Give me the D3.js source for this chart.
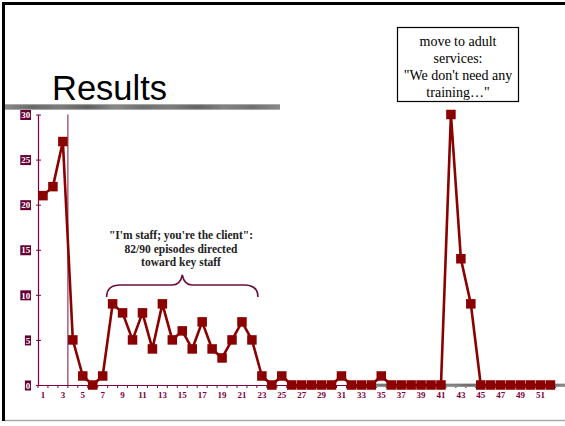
<!DOCTYPE html>
<html>
<head>
<meta charset="utf-8">
<script src="https://cdn.jsdelivr.net/npm/d3@7/dist/d3.min.js"></script>
<style>
  html, body { margin: 0; padding: 0; background: #fff; }
  svg { display: block; }
</style>
</head>
<body>
<svg id="chart" width="565" height="426"></svg>
<script>
// ---- data ----
const sessions = d3.range(1, 53);
const episodes = [21, 22, 27, 5, 1, 0, 1, 9, 8, 5, 8, 4, 9, 5, 6, 4, 7, 4, 3, 5, 7, 5, 1, 0, 1,
                  0, 0, 0, 0, 0, 1, 0, 0, 0, 1, 0, 0, 0, 0, 0, 0, 30, 14, 9, 0, 0, 0, 0, 0, 0, 0, 0];
const yTicks = [0, 5, 10, 15, 20, 25, 30];
const xTickLabels = sessions.filter(d => d % 2 === 1);
const titleText = "Results";
const braceText = ["\"I'm staff; you're the client\":", "82/90 episodes directed", "toward key staff"];
const boxText = ["move to adult", "services:", "\"We don't need any", "training\u2026\""];
const phaseChangeAfter = 3;   // phase line between session 3 and 4
const braceRange = [8, 22];   // sessions covered by the brace

// ---- layout ----
const svg = d3.select("#chart");
const W = 565, H = 426;
const plot = { left: 38, right: 555.4, top: 114.5, bottom: 385 };
const lineColor = "#8b0000";
const axisColor = "#800040";

const x = d3.scaleBand().domain(sessions).range([plot.left, plot.right]).paddingInner(0).paddingOuter(0);
const y = d3.scaleLinear().domain([0, 30]).range([plot.bottom, plot.top]);
const cx = d => x(d) + x.bandwidth() / 2;

// slide frame
svg.append("rect").attr("x", 0).attr("y", 0).attr("width", W).attr("height", H).attr("fill", "#fff");
svg.append("line").attr("x1", 3.5).attr("x2", 3.5).attr("y1", 2).attr("y2", 421)
  .attr("stroke", "#000").attr("stroke-width", 3);
svg.append("line").attr("x1", 2).attr("x2", W).attr("y1", 3.5).attr("y2", 3.5)
  .attr("stroke", "#000").attr("stroke-width", 3);
svg.append("line").attr("x1", 5).attr("x2", W).attr("y1", 420.5).attr("y2", 420.5)
  .attr("stroke", "#aaa").attr("stroke-width", 1.5);

// gray textured bars
const defs = svg.append("defs");
const grad = defs.append("linearGradient").attr("id", "gbar").attr("x1", "0").attr("x2", "1").attr("y1", "0").attr("y2", "0");
const stops = ["#9a9a9a", "#707070", "#888", "#666", "#999", "#777", "#8a8a8a", "#6a6a6a", "#929292", "#7a7a7a", "#9c9c9c"];
stops.forEach((c, i) => grad.append("stop").attr("offset", (i / (stops.length - 1))).attr("stop-color", c));
const gradV = defs.append("linearGradient").attr("id", "gbarv").attr("x1", "0").attr("x2", "0").attr("y1", "0").attr("y2", "1");
gradV.append("stop").attr("offset", 0).attr("stop-color", "#ddd").attr("stop-opacity", 0.8);
gradV.append("stop").attr("offset", 0.5).attr("stop-color", "#000").attr("stop-opacity", 0);
gradV.append("stop").attr("offset", 1).attr("stop-color", "#ddd").attr("stop-opacity", 0.8);

svg.append("rect").attr("x", 5).attr("y", 104).attr("width", 275).attr("height", 6).attr("fill", "url(#gbar)");
svg.append("rect").attr("x", 5).attr("y", 104).attr("width", 275).attr("height", 6).attr("fill", "url(#gbarv)");

// title
svg.append("text").attr("x", 52).attr("y", 100).text(titleText)
  .attr("font-family", "Arial, 'Liberation Sans', sans-serif").attr("font-size", 34.5).attr("fill", "#000");

// phase change line
svg.append("line")
  .attr("x1", x(phaseChangeAfter + 1)).attr("x2", x(phaseChangeAfter + 1))
  .attr("y1", y(30)).attr("y2", y(0))
  .attr("stroke", "#a8607e").attr("stroke-width", 1.5);

// y axis
const yAxis = svg.append("g").attr("transform", `translate(${plot.left},0)`)
  .call(d3.axisLeft(y).tickValues(yTicks).tickSize(0).tickFormat(d3.format("d")));
yAxis.select(".domain").attr("stroke", axisColor).attr("stroke-width", 1.2);
yAxis.selectAll(".tick text").remove();
yAxis.selectAll(".tick").append("line").attr("x1", -2).attr("x2", 3).attr("stroke", axisColor).attr("stroke-width", 1);
yAxis.selectAll(".tick").each(function(d) {
  const g = d3.select(this);
  const label = String(d);
  const w = label.length * 4.6 + 1.5;
  g.append("rect").attr("x", -7 - w).attr("y", -5).attr("width", w).attr("height", 10).attr("fill", "#660033");
  g.append("text").attr("x", -7 - w / 2).attr("y", 3.2).attr("text-anchor", "middle").text(label)
    .attr("font-family", "'Liberation Serif', 'Times New Roman', serif").attr("font-weight", "bold")
    .attr("font-size", 9).attr("fill", "#fff");
});

// x axis
const xAxis = svg.append("g").attr("transform", `translate(0,${plot.bottom})`)
  .call(d3.axisBottom(x).tickValues(xTickLabels).tickSize(0).tickPadding(7));
xAxis.select(".domain").attr("stroke", axisColor).attr("stroke-width", 1.2);
xAxis.selectAll(".tick text")
  .attr("font-family", "'Liberation Serif', 'Times New Roman', serif").attr("font-weight", "bold")
  .attr("font-size", 9).attr("fill", axisColor);
// band boundary ticks
xAxis.selectAll(".bt").data(sessions.concat([null])).enter().append("line")
  .attr("class", "bt")
  .attr("x1", (d, i) => plot.left + i * x.step()).attr("x2", (d, i) => plot.left + i * x.step())
  .attr("y1", 0).attr("y2", 3).attr("stroke", axisColor).attr("stroke-width", 1);

// bottom gray bar
svg.append("rect").attr("x", 372).attr("y", 383.5).attr("width", W - 372).attr("height", 3.5).attr("fill", "url(#gbar)");
svg.append("rect").attr("x", 372).attr("y", 383.5).attr("width", W - 372).attr("height", 3.5).attr("fill", "url(#gbarv)");

// data line
const line = d3.line().x((d, i) => cx(sessions[i])).y(d => y(d));
svg.append("path").datum(episodes).attr("d", line)
  .attr("fill", "none").attr("stroke", lineColor).attr("stroke-width", 2.6).attr("stroke-linejoin", "round");

// markers
const ms = 9.5;
svg.selectAll(".mk").data(episodes).enter().append("rect")
  .attr("class", "mk")
  .attr("x", (d, i) => cx(sessions[i]) - ms / 2)
  .attr("y", d => y(d) - ms / 2)
  .attr("width", ms).attr("height", ms)
  .attr("fill", lineColor);

// brace annotation
const bx0 = cx(braceRange[0]) - 6, bx1 = cx(braceRange[1]) + 6;
const bmid = (bx0 + bx1) / 2;
const by0 = 297, by1 = 285, byp = 275;
const bracePath = d3.path();
bracePath.moveTo(bx0, by0);
bracePath.quadraticCurveTo(bx0, by1, bx0 + 14, by1);
bracePath.lineTo(bmid - 10, by1);
bracePath.quadraticCurveTo(bmid - 2, by1, bmid, byp);
bracePath.quadraticCurveTo(bmid + 2, by1, bmid + 10, by1);
bracePath.lineTo(bx1 - 14, by1);
bracePath.quadraticCurveTo(bx1, by1, bx1, by0);
svg.append("path").attr("d", bracePath.toString()).attr("fill", "none")
  .attr("stroke", "#6a1040").attr("stroke-width", 1.6);

svg.append("g").selectAll("text").data(braceText).enter().append("text")
  .attr("x", 181).attr("y", (d, i) => 239 + i * 13.5)
  .attr("text-anchor", "middle").text(d => d)
  .attr("font-family", "'Liberation Serif', 'Times New Roman', serif").attr("font-weight", "bold")
  .attr("font-size", 11.5).attr("fill", "#222");

// box annotation
svg.append("rect").attr("x", 397.5).attr("y", 27.5).attr("width", 121).attr("height", 74)
  .attr("fill", "#fff").attr("stroke", "#000").attr("stroke-width", 1.2);
svg.append("g").selectAll("text").data(boxText).enter().append("text")
  .attr("x", 458).attr("y", (d, i) => 46 + i * 17)
  .attr("text-anchor", "middle").text(d => d)
  .attr("font-family", "'Liberation Serif', 'Times New Roman', serif")
  .attr("font-size", 14).attr("fill", "#000");
</script>
</body>
</html>
